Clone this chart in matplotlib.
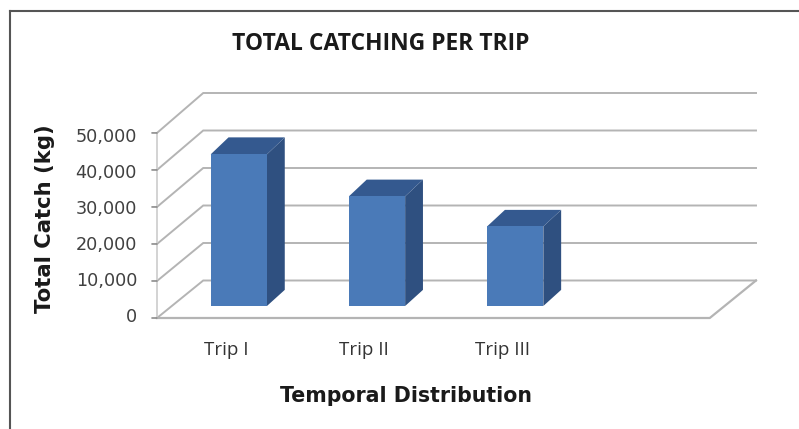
import matplotlib
matplotlib.use("Agg")
import matplotlib.pyplot as plt
from matplotlib.patches import Polygon

# --- dados ---
trips = ["Trip I", "Trip II", "Trip III"]
catch_kg = [40800, 29500, 21400]
y_ticks = [0, 10000, 20000, 30000, 40000, 50000]
n_slots = 4  # o eixo tem um quarto espaco vazio

# --- geometria do falso 3D ---
W, H = 799, 429
DEPTH_X = 0.3345    # deslocamento em x (categorias) do fundo
DEPTH_Y = 10000     # deslocamento em y (kg) do fundo
FRONT_SCALE = 0.987  # a frente e um pouco menor que o fundo
BAR_W = 0.407
BAR_D0, BAR_D1 = 0.32, 0.75
BAR_SHIFT = -0.015
BAR_SKEW = 0.30     # as barras inclinam um pouco menos que as paredes
GRID = "#b4b4b4"
FRONT = "#4a7ab8"
SIDE = "#2f5080"
TOP = "#34598f"


def proj(x, y, d):
    scale = FRONT_SCALE + d * (1 - FRONT_SCALE)
    return (x + d * DEPTH_X, y * scale + d * DEPTH_Y)


fig = plt.figure(figsize=(W / 100, H / 100), dpi=100)
ax = fig.add_axes([157 / W, 1 - 318 / H, 599 / W, 225 / H])
ax.set_xlim(0, n_slots + DEPTH_X)
ax.set_ylim(0, 50000 + DEPTH_Y)
ax.axis("off")

# grades: parede esquerda e parede do fundo
for v in y_ticks:
    p0, p1, p2 = proj(0, v, 0), proj(0, v, 1), proj(n_slots, v, 1)
    ax.plot([p0[0], p1[0], p2[0]], [p0[1], p1[1], p2[1]], color=GRID, lw=1.4,
            clip_on=False, zorder=1, solid_joinstyle="miter")

# piso e eixo vertical
floor = [proj(0, 0, 0), proj(n_slots, 0, 0), proj(n_slots, 0, 1)]
ax.plot(*zip(*floor), color=GRID, lw=1.6, clip_on=False, zorder=1)
ax.plot(*zip(proj(0, 0, 0), proj(0, 50000, 0)), color="#cccccc", lw=1.2, clip_on=False, zorder=1)

# marcas e rotulos do eixo y
for v in y_ticks:
    tx, ty = proj(0, v, 0)
    ax.annotate("", xy=(tx, ty), xytext=(-5, 0), textcoords="offset pixels", annotation_clip=False,
                arrowprops=dict(arrowstyle="-", color="#8c8c8c", lw=1.2, shrinkA=0, shrinkB=0))
    ax.annotate(f"{v:,}", xy=(tx, ty), xytext=(-20, 1 - 5 * v / 50000), textcoords="offset pixels",
                ha="right", va="center", fontsize=12.7, color="#404040",
                family="DejaVu Sans", annotation_clip=False)

# barras
for i, (name, val) in enumerate(zip(trips, catch_kg)):
    x0 = i + 0.5 - BAR_W / 2 + BAR_SHIFT
    x1 = x0 + BAR_W
    x2 = x1 + (BAR_D1 - BAR_D0) * BAR_SKEW
    xb = x0 + (BAR_D1 - BAR_D0) * BAR_SKEW
    bx = BAR_D0 * DEPTH_X
    y00 = proj(0, 0, BAR_D0)[1]
    yv0 = proj(0, val, BAR_D0)[1]
    y01 = proj(0, 0, BAR_D1)[1]
    yv1 = proj(0, val, BAR_D1)[1]
    front = [(x0 + bx, y00), (x1 + bx, y00), (x1 + bx, yv0), (x0 + bx, yv0)]
    side = [(x1 + bx, y00), (x2 + bx, y01), (x2 + bx, yv1), (x1 + bx, yv0)]
    top = [(x0 + bx, yv0), (x1 + bx, yv0), (x2 + bx, yv1), (xb + bx, yv1)]
    ax.add_patch(Polygon(side, closed=True, fc=SIDE, ec="none", zorder=3))
    ax.add_patch(Polygon(top, closed=True, fc=TOP, ec="none", zorder=3))
    ax.add_patch(Polygon(front, closed=True, fc=FRONT, ec="none", zorder=4))
    # rotulo da categoria
    ax.annotate(name, xy=(i + 0.5, 0), xytext=(0, -32), textcoords="offset pixels",
                ha="center", va="center", fontsize=13.5, color="#333333",
                family="Open Sans", annotation_clip=False)

# textos
fig.text(381 / W, 1 - 44 / H, "TOTAL CATCHING PER TRIP", ha="center", va="center",
         fontsize=16.5, fontweight="bold", color="#1a1a1a", family="Open Sans")
fig.text(406 / W, 1 - 396 / H, "Temporal Distribution", ha="center", va="center",
         fontsize=14.8, fontweight="bold", color="#1a1a1a", family="DejaVu Sans")
fig.text(45 / W, 1 - 219 / H, "Total Catch (kg)", rotation=90, ha="center", va="center",
         fontsize=15.2, fontweight="bold", color="#1a1a1a", family="DejaVu Sans")

# moldura do grafico
fig.add_artist(plt.Line2D([10 / W, 10 / W], [0, 1 - 11 / H], color="#555555", lw=1.5))
fig.add_artist(plt.Line2D([10 / W, 1], [1 - 11 / H, 1 - 11 / H], color="#555555", lw=1.5))

fig.savefig("out.png", dpi=100)
plt.close(fig)
